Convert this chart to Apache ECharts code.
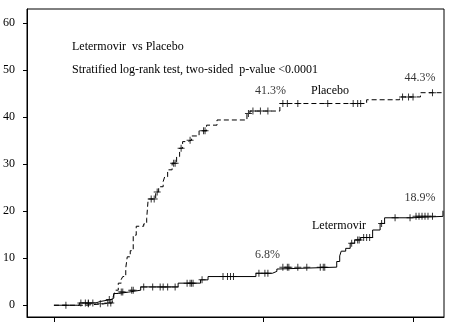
<!DOCTYPE html>
<html>
<head>
<meta charset="utf-8">
<script src="https://cdn.jsdelivr.net/npm/echarts@6/dist/echarts.min.js"></script>
<style>
  html, body { margin: 0; padding: 0; background: #fff; }
  #chart { width: 464px; height: 326px; }
</style>
</head>
<body>
<div id="chart"></div>
<script>
// Cumulative incidence (%) by week, Kaplan-Meier style step curves.
// Event times (weeks) and cumulative value reached at each time.
const placeboTimes = [0, 2.1, 3.3, 3.9, 4.0, 4.1, 4.3, 4.5, 4.6, 4.8, 4.9, 5.1, 5.3, 5.5, 6.0, 6.2, 6.3, 6.8, 7.0, 7.3, 7.4, 7.6, 7.9, 8.2, 8.4, 8.6, 8.9, 9.2, 9.7, 10.2, 10.9, 12.9, 13.1, 15.1, 20.9, 23.1, 24.5];
const placeboValues = [0, 0.3, 0.5, 1.2, 2.2, 3.2, 4.7, 5.5, 6.1, 7.9, 10.3, 11.6, 14.9, 16.8, 17.3, 18.5, 22.6, 24.1, 25.2, 26.3, 27.3, 28.8, 30.2, 31.6, 33.4, 34.8, 35.1, 36.0, 37.1, 38.3, 39.4, 40.8, 41.3, 42.9, 43.7, 44.3, 45.2];
const placeboCensored = [2.3, 3.1, 3.6, 3.8, 6.5, 6.7, 6.9, 8.0, 8.1, 8.5, 9.1, 10.0, 10.1, 13.0, 13.3, 13.8, 14.3, 15.3, 15.6, 16.3, 18.3, 20.0, 20.3, 20.5, 23.3, 23.7, 24.0, 25.3];
const placeboEnd = 26.0;

const letermovirTimes = [0, 1.7, 2.8, 3.1, 3.8, 4.0, 4.3, 5.0, 5.8, 8.3, 9.8, 10.3, 13.5, 14.6, 14.9, 15.0, 18.9, 19.1, 19.2, 19.5, 19.8, 20.1, 20.5, 21.3, 21.8, 22.1, 23.9, 26.0];
const letermovirValues = [0, 0.5, 0.8, 1.2, 1.5, 2.5, 2.8, 3.2, 3.9, 4.7, 5.4, 6.1, 6.8, 7.2, 7.7, 8.1, 9.3, 10.5, 11.5, 12.1, 13.2, 13.9, 14.4, 16.0, 17.4, 18.6, 18.9, 20.1];
const letermovirCensored = [0.8, 1.8, 2.1, 2.3, 2.6, 3.7, 4.5, 4.6, 5.2, 5.3, 6.0, 6.6, 7.1, 7.3, 7.6, 8.1, 8.9, 9.1, 9.2, 9.3, 9.9, 11.3, 11.6, 11.8, 12.0, 13.7, 14.1, 14.3, 15.3, 15.6, 15.7, 16.3, 16.9, 17.8, 18.0, 18.1, 19.9, 20.3, 20.4, 20.7, 20.9, 21.1, 21.9, 22.8, 23.8, 24.2, 24.4, 24.6, 24.8, 25.0, 25.3];
const letermovirEnd = 26.0;

// Landmark weeks with the value printed above each curve
const landmarkWeeks = [14, 24];
const placeboLandmark = [41.3, 44.3];
const letermovirLandmark = [6.8, 18.9];

const xTicks = [0, 14, 24];
const yTicks = [0, 10, 20, 30, 40, 50, 60];

const titleLine = 'Letermovir  vs Placebo';
const testLine = 'Stratified log-rank test, two-sided  p-value <0.0001';

const SERIF = '"Liberation Serif", "DejaVu Serif", serif';
const FS = 12;

function curve(times, values, end) {
  const pts = times.map((t, i) => [t, values[i]]);
  if (end > times[times.length - 1]) pts.push([end, values[values.length - 1]]);
  return pts;
}
function valueAt(times, values, t) {
  let v = values[0];
  for (let i = 0; i < times.length; i++) { if (times[i] <= t) v = values[i]; }
  return v;
}
function censorPoints(cens, times, values) {
  return cens.map(t => [t, valueAt(times, values, t)]);
}

const plus = 'path://M-0.5,-3.5H0.5V-0.5H3.5V0.5H0.5V3.5H-0.5V0.5H-3.5V-0.5H-0.5Z';

const chart = echarts.init(document.getElementById('chart'), null, { renderer: 'canvas' });

chart.setOption({
  animation: false,
  backgroundColor: '#fff',
  grid: {
    left: 26, top: 9, right: 20, bottom: 9,
    show: true, borderColor: '#000', borderWidth: 1, backgroundColor: 'transparent'
  },
  xAxis: {
    type: 'value', min: -1.8, max: 26.07,
    axisLine: { show: true, onZero: false, lineStyle: { color: '#000', width: 1 } },
    axisTick: { show: true, customValues: xTicks, length: 5, lineStyle: { color: '#000' } },
    axisLabel: { show: false },
    splitLine: { show: false }
  },
  yAxis: {
    type: 'value', min: -2.5, max: 63,
    axisLine: { show: true, onZero: false, lineStyle: { color: '#000', width: 1 } },
    axisTick: { show: true, customValues: yTicks, length: 4, lineStyle: { color: '#000' } },
    axisLabel: { customValues: yTicks, margin: 12, color: '#000', fontFamily: SERIF, fontSize: FS },
    splitLine: { show: false }
  },
  series: [
    {
      name: 'Placebo', type: 'line', step: 'end', showSymbol: false,
      data: curve(placeboTimes, placeboValues, placeboEnd),
      lineStyle: { color: '#000', width: 1, type: [5, 3] }, silent: true, z: 3
    },
    {
      name: 'Letermovir', type: 'line', step: 'end', showSymbol: false,
      data: curve(letermovirTimes, letermovirValues, letermovirEnd),
      lineStyle: { color: '#000', width: 1 }, silent: true, z: 3
    },
    {
      type: 'scatter', symbol: plus, symbolSize: [7, 7],
      itemStyle: { color: '#000' }, silent: true, z: 4,
      data: censorPoints(placeboCensored, placeboTimes, placeboValues)
    },
    {
      type: 'scatter', symbol: plus, symbolSize: [7, 7],
      itemStyle: { color: '#000' }, silent: true, z: 4,
      data: censorPoints(letermovirCensored, letermovirTimes, letermovirValues)
    },
    {
      type: 'scatter', symbolSize: 0, silent: true, z: 5,
      label: {
        show: true, position: 'top', color: '#000', fontFamily: SERIF, fontSize: FS,
        formatter: p => p.value[1].toFixed(1) + '%'
      },
      data: [
        { value: [landmarkWeeks[0], placeboLandmark[0]], label: { offset: [7, -9] } },
        { value: [landmarkWeeks[1], placeboLandmark[1]], label: { offset: [7, -8] } },
        { value: [landmarkWeeks[0], letermovirLandmark[0]], label: { offset: [4, -7] } },
        { value: [landmarkWeeks[1], letermovirLandmark[1]], label: { offset: [7, -8] } }
      ]
    }
  ],
  graphic: [
    { type: 'text', left: 72, top: 41, style: { text: titleLine, fill: '#000', font: FS + 'px ' + SERIF } },
    { type: 'text', left: 72, top: 64, style: { text: testLine, fill: '#000', font: FS + 'px ' + SERIF } },
    { type: 'text', left: 311, top: 85, style: { text: 'Placebo', fill: '#000', font: FS + 'px ' + SERIF } },
    { type: 'text', left: 312, top: 220, style: { text: 'Letermovir', fill: '#000', font: FS + 'px ' + SERIF } }
  ]
});
</script>
</body>
</html>
